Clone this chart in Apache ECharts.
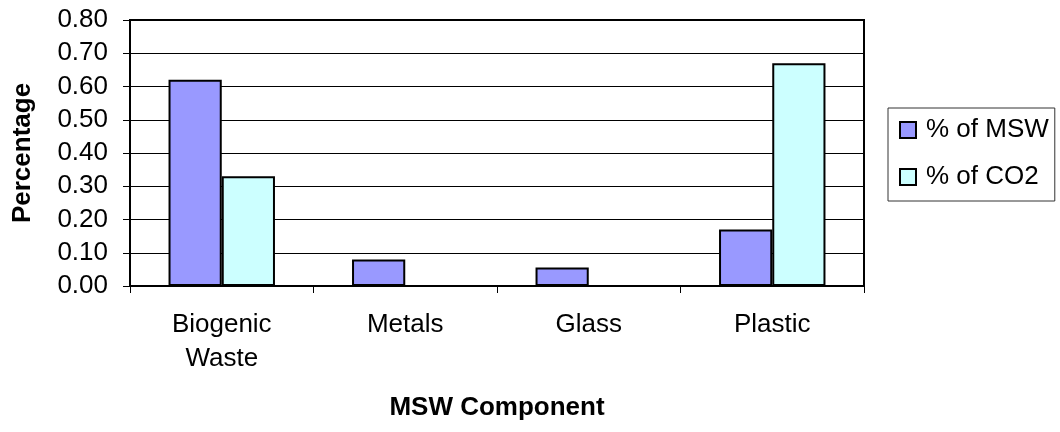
<!DOCTYPE html>
<html>
<head>
<meta charset="utf-8">
<script src="https://cdn.jsdelivr.net/npm/echarts@6/dist/echarts.min.js"></script>
<style>html,body{margin:0;padding:0;background:#fff;}#c{width:1060px;height:432px;}</style>
</head>
<body>
<div id="c"></div>
<script>
var categories = ['Biogenic\nWaste', 'Metals', 'Glass', 'Plastic'];
var mswValues = [0.62, 0.08, 0.056, 0.17];
var co2Values = [0.33, 0, 0, 0.67];
var seriesNames = ['% of MSW', '% of CO2'];

var chart = echarts.init(document.getElementById('c'));
var font = 'Liberation Sans, Arial, sans-serif';
var fs = 26;
chart.setOption({
  animation: false,
  backgroundColor: '#fff',
  textStyle: { fontFamily: font },
  grid: { left: 130, right: 196, top: 20, bottom: 146, show: true, borderColor: '#000', borderWidth: 2, backgroundColor: 'transparent' },
  legend: {
    orient: 'vertical', left: 888, top: 108,
    padding: [9, 6, 11, 11], itemGap: 21, itemWidth: 16, itemHeight: 16,
    borderColor: '#333', borderWidth: 1,
    textStyle: { fontFamily: font, fontSize: fs, color: '#000', padding: [0, 0, 0, 5] },
    data: seriesNames.map(function (n) { return { name: n, icon: 'rect' }; })
  },
  xAxis: {
    type: 'category', data: categories,
    name: 'MSW Component', nameLocation: 'middle', nameGap: 109,
    nameTextStyle: { fontFamily: font, fontSize: fs, fontWeight: 'bold', color: '#000' },
    axisLine: { lineStyle: { color: '#000', width: 2 } },
    axisTick: { show: true, length: 7, lineStyle: { color: '#000' } },
    axisLabel: { fontFamily: font, fontSize: fs, color: '#000', margin: 22, lineHeight: 34 }
  },
  yAxis: {
    type: 'value', min: 0, max: 0.8, interval: 0.1,
    name: 'Percentage', nameLocation: 'middle', nameGap: 94, nameRotate: 90,
    nameTextStyle: { fontFamily: font, fontSize: fs, fontWeight: 'bold', color: '#000' },
    axisLine: { show: true, lineStyle: { color: '#000', width: 2 } },
    axisTick: { show: true, length: 7, lineStyle: { color: '#000' } },
    axisLabel: { fontFamily: font, fontSize: fs, color: '#000', margin: 22, formatter: function (v) { return v.toFixed(2); } },
    splitLine: { show: true, lineStyle: { color: '#000', width: 1 } }
  },
  series: [
    { name: seriesNames[0], type: 'bar', data: mswValues, barGap: '0%', barCategoryGap: '42%',
      itemStyle: { color: '#9999FF', borderColor: '#000', borderWidth: 2 } },
    { name: seriesNames[1], type: 'bar', data: co2Values,
      itemStyle: { color: '#CCFFFF', borderColor: '#000', borderWidth: 2 } }
  ]
});
</script>
</body>
</html>
